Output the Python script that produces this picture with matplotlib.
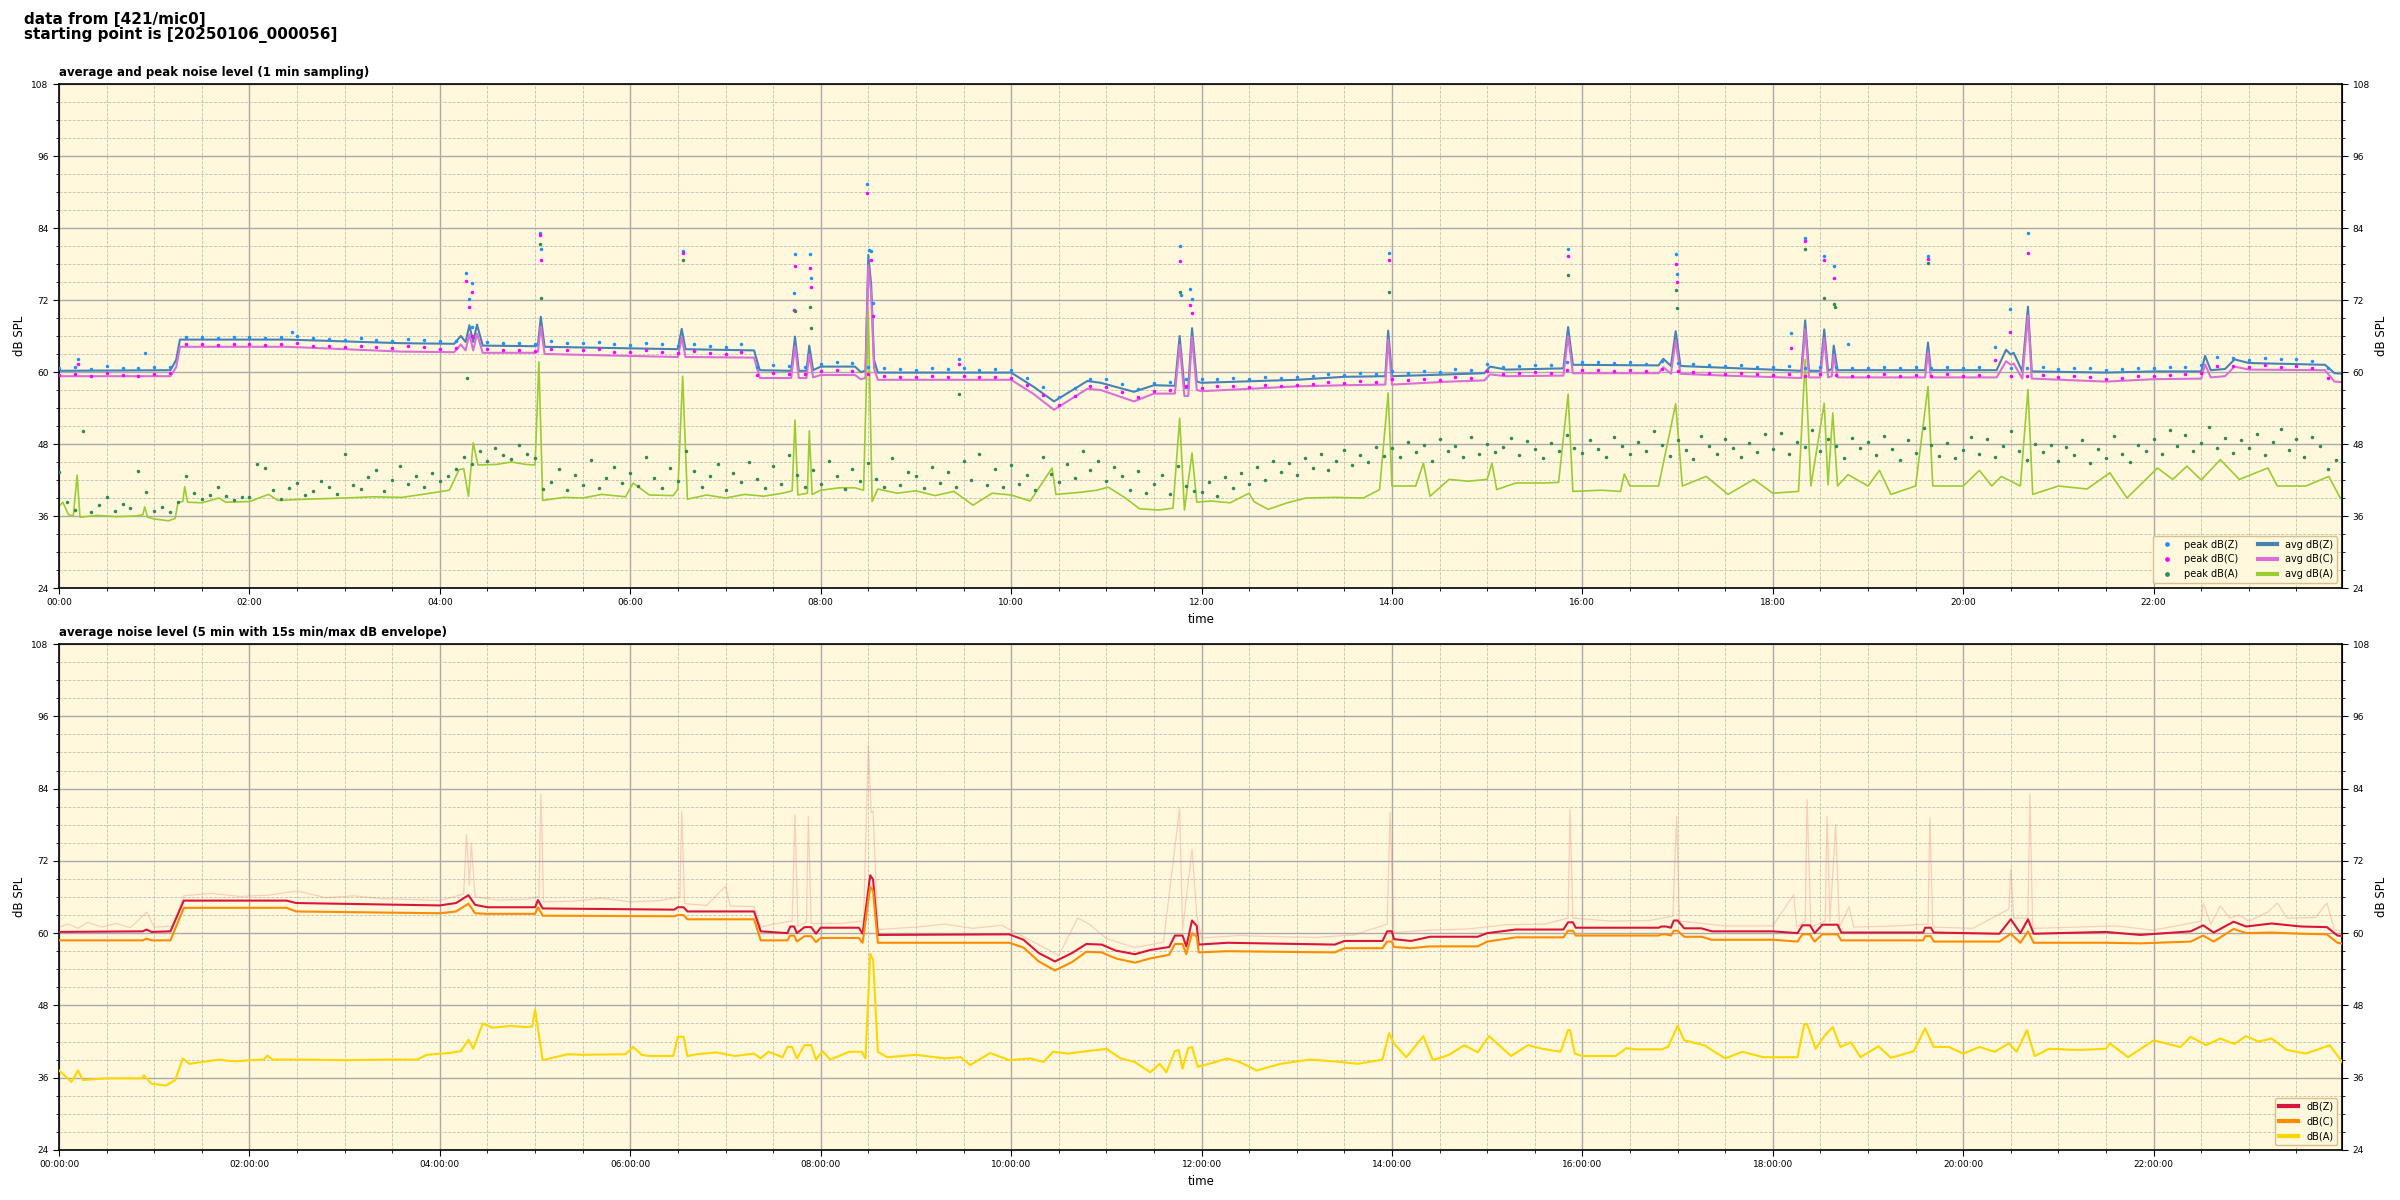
import numpy as np
import matplotlib
matplotlib.use("Agg")
import matplotlib.pyplot as plt
from matplotlib.ticker import MultipleLocator, FuncFormatter

# ---- top panel: 1 min averages (hours since 00:00, dB) ----
avg_zc_t = [0.0, 1.17, 1.23, 1.27, 2.4, 3.6, 4.15, 4.22, 4.27, 4.31, 4.35, 4.39, 4.45,
            5.0, 5.03, 5.06, 5.1, 6.5, 6.54, 6.58, 7.3, 7.36, 7.69, 7.73, 7.77, 7.85,
            7.88, 7.92, 8.0, 8.36, 8.42, 8.47, 8.5, 8.53, 8.56, 8.6, 10.0, 10.23, 10.45,
            10.8, 10.94, 11.29, 11.5, 11.72, 11.77, 11.82, 11.86, 11.9, 11.95, 12.0,
            13.0, 13.5, 13.93, 13.96, 14.0, 14.6, 14.97, 15.03, 15.2, 15.8, 15.85, 15.9,
            16.8, 16.85, 16.93, 16.98, 17.03, 17.5, 18.3, 18.34, 18.38, 18.5, 18.54,
            18.58, 18.62, 18.64, 18.68, 19.6, 19.63, 19.66, 20.35, 20.45, 20.5, 20.53,
            20.62, 20.68, 20.72, 21.5, 22.0, 22.5, 22.54, 22.6, 22.75, 22.85, 23.0,
            23.8, 23.9, 24.0]
avg_z = [60.2, 60.3, 62.0, 65.4, 65.4, 64.8, 64.7, 66.0, 65.0, 67.8, 65.0, 67.9, 64.4,
         64.3, 64.5, 69.2, 64.2, 63.8, 67.2, 63.8, 63.6, 60.3, 60.2, 65.9, 60.2, 60.2,
         64.4, 60.3, 60.9, 60.9, 60.0, 60.2, 79.5, 74.5, 62.0, 59.9, 59.9, 57.6, 55.1,
         58.5, 58.2, 56.7, 57.8, 57.7, 66.0, 57.3, 57.3, 67.3, 58.4, 58.2,
         58.7, 59.2, 59.3, 66.9, 59.3, 59.6, 59.8, 60.9, 60.4, 60.6, 67.5, 61.2,
         61.1, 62.2, 61.0, 66.8, 61.0, 60.7, 60.2, 68.6, 60.2, 60.2, 67.1,
         60.2, 60.5, 64.4, 60.3, 60.3, 64.9, 60.3, 60.3, 63.7, 62.9, 63.2,
         60.1, 70.9, 60.1, 59.9, 60.1, 60.1, 62.7, 60.3, 60.5, 62.1, 61.5,
         61.2, 59.8, 59.7]
avg_c = [59.3, 59.3, 60.8, 64.2, 64.2, 63.4, 63.3, 64.6, 63.6, 66.3, 63.6, 66.4, 63.2,
         63.2, 63.4, 67.6, 63.0, 62.5, 65.7, 62.5, 62.4, 59.0, 59.0, 64.3, 59.0, 59.0,
         62.9, 59.1, 59.5, 59.5, 58.8, 59.0, 77.8, 73.0, 60.6, 58.7, 58.7, 56.4, 53.7,
         57.2, 57.0, 55.1, 56.4, 56.4, 64.5, 56.0, 56.0, 65.8, 57.0, 56.8,
         57.6, 57.8, 57.9, 65.4, 57.9, 58.4, 58.6, 59.6, 59.3, 59.4, 66.0, 59.8,
         59.8, 60.8, 59.7, 65.3, 59.7, 59.4, 59.0, 67.1, 59.1, 59.1, 65.6,
         59.1, 59.3, 62.9, 59.1, 59.1, 63.4, 59.1, 59.1, 61.8, 61.2, 61.4,
         58.9, 69.4, 58.9, 58.4, 58.8, 58.9, 61.3, 59.1, 59.3, 60.9, 60.4,
         60.3, 58.4, 58.3]

avg_a_t = [0.0, 0.04, 0.1, 0.15, 0.19, 0.22, 0.4, 0.6, 0.8, 0.88, 0.9, 0.93, 1.0, 1.15,
           1.22, 1.25, 1.3, 1.32, 1.35, 1.5, 1.68, 1.75, 2.0, 2.2, 2.3, 2.6, 3.0, 3.3,
           3.6, 3.9, 4.1, 4.2, 4.25, 4.3, 4.35, 4.4, 4.6, 4.75, 4.9, 5.0, 5.04, 5.08,
           5.3, 5.5, 5.7, 5.95, 6.03, 6.2, 6.45, 6.5, 6.55, 6.6, 6.8, 7.0, 7.2, 7.4,
           7.6, 7.7, 7.73, 7.76, 7.86, 7.88, 7.91, 8.0, 8.2, 8.36, 8.45, 8.5, 8.54,
           8.6, 8.8, 9.0, 9.2, 9.4, 9.6, 9.8, 10.0, 10.2, 10.43, 10.47, 10.7, 10.9,
           11.02, 11.2, 11.35, 11.55, 11.7, 11.77, 11.82, 11.9, 11.95, 12.1, 12.3,
           12.5, 12.55, 12.7, 12.9, 13.1, 13.4, 13.7, 13.87, 13.96, 14.0, 14.25,
           14.33, 14.4, 14.6, 14.8, 15.0, 15.05, 15.1, 15.3, 15.6, 15.75, 15.85,
           15.9, 16.2, 16.4, 16.44, 16.5, 16.8, 16.98, 17.05, 17.3, 17.53, 17.8,
           18.0, 18.27, 18.34, 18.4, 18.54, 18.58, 18.63, 18.68, 18.79, 19.0,
           19.12, 19.24, 19.5, 19.63, 19.68, 20.0, 20.17, 20.3, 20.4, 20.6, 20.68,
           20.73, 21.0, 21.3, 21.54, 21.72, 22.04, 22.2, 22.35, 22.5, 22.7, 22.9,
           23.2, 23.3, 23.6, 23.84, 23.96, 24.0]
avg_a = [37.6, 38.3, 36.2, 36.0, 42.8, 35.8, 36.1, 35.9, 36.0, 36.2, 37.5, 35.8, 35.5, 35.2,
         35.6, 38.3, 38.4, 40.9, 38.3, 38.2, 39.0, 38.3, 38.4, 39.6, 38.6, 38.8, 39.0, 39.2,
         39.1, 39.8, 40.3, 43.7, 43.9, 39.3, 48.2, 44.5, 44.6, 45.0, 44.6, 44.5, 61.7, 38.6,
         39.1, 39.0, 39.6, 39.2, 41.5, 39.5, 39.4, 40.5, 59.3, 38.8, 39.5, 39.0, 39.6, 39.3,
         39.8, 40.2, 52.0, 39.5, 39.8, 50.2, 39.6, 40.3, 40.7, 40.7, 40.3, 70.2, 38.4,
         40.5, 39.8, 40.2, 39.4, 40.1, 37.8, 39.8, 39.5, 38.5, 44.0, 39.6, 39.9, 40.3,
         40.8, 39.0, 37.2, 37.0, 37.3, 52.3, 37.0, 46.5, 38.3, 38.5, 38.2,
         39.8, 38.4, 37.1, 38.2, 39.0, 39.1, 39.0, 40.4, 56.5, 41.0, 41.0,
         44.8, 39.3, 42.1, 41.8, 42.1, 44.8, 40.4, 41.5, 41.5, 41.6, 56.3,
         40.1, 40.3, 40.1, 43.0, 41.0, 41.0, 54.7, 41.0, 42.6, 39.6, 42.1,
         39.8, 40.1, 62.1, 41.0, 54.8, 41.2, 53.2, 41.0, 42.9, 41.0,
         43.6, 39.6, 41.0, 57.6, 41.0, 41.0, 43.6, 41.0, 42.6, 41.0, 57.1,
         39.6, 41.0, 40.5, 43.2, 39.0, 44.0, 42.1, 44.3, 42.0, 45.4, 42.1,
         44.0, 41.0, 41.0, 42.6, 39.0, 39.2]

# ---- top panel: 1 min peaks, every 10 min (Z, C) and every 5 min (A) ----
peak_z = [60.6, 60.8, 60.5, 61.0, 60.7, 60.6,  60.8, 60.9, 65.8, 65.9, 65.7, 65.8,
          65.9, 65.7, 65.8, 66.0, 65.6, 65.5,  65.4, 65.6, 65.3, 65.2, 65.5, 65.3,
          65.1, 65.2, 67.5, 65.0, 64.9, 64.8,  64.7, 65.1, 64.9, 64.8, 65.0, 64.6,
          64.5, 64.8, 64.6, 64.4, 64.7, 64.3,  64.2, 64.6, 60.8, 61.2, 61.0, 60.9,
          61.4, 61.6, 61.5, 60.9, 60.6, 60.5,  60.4, 60.6, 60.5, 60.7, 60.4, 60.5,
          60.3, 59.0, 57.5, 55.9, 57.4, 58.9,  58.8, 58.0, 57.2, 58.1, 58.3, 58.9,
          58.8, 58.9, 59.0, 58.8, 59.1, 59.0,  59.2, 59.3, 59.6, 59.5, 59.8, 59.7,
          60.1, 59.9, 60.2, 60.0, 60.5, 60.3,  61.4, 60.9, 61.0, 61.2, 61.1, 61.6,
          61.6, 61.7, 61.5, 61.6, 61.4, 61.8,  61.5, 61.3, 61.2, 61.0, 61.1, 60.9,
          60.8, 61.0, 60.7, 60.9, 60.8, 60.6,  60.7, 60.9, 60.6, 60.8, 60.7, 60.9,
          60.6, 60.8, 64.1, 60.7, 60.6, 60.8,  60.5, 60.7, 60.6, 60.4, 60.5, 60.7,
          60.6, 60.8, 60.9, 61.1, 62.5, 62.3,  62.0, 62.4, 62.1, 62.2, 61.9, 60.6]
peak_c = [59.5, 59.6, 59.4, 59.8, 59.5, 59.4,  59.6, 59.8, 64.6, 64.7, 64.5, 64.6,
          64.7, 64.5, 64.6, 64.8, 64.4, 64.3,  64.2, 64.4, 64.1, 64.0, 64.3, 64.1,
          63.9, 64.0, 66.0, 63.8, 63.7, 63.6,  63.5, 63.9, 63.7, 63.6, 63.8, 63.4,
          63.3, 63.6, 63.4, 63.2, 63.5, 63.1,  63.0, 63.3, 59.5, 59.9, 59.7, 59.6,
          60.1, 60.3, 60.2, 59.6, 59.3, 59.2,  59.1, 59.3, 59.2, 59.4, 59.1, 59.2,
          59.0, 57.8, 56.2, 54.5, 56.0, 57.6,  57.5, 56.6, 55.8, 56.8, 57.0, 57.6,
          57.4, 57.6, 57.7, 57.5, 57.8, 57.7,  57.9, 58.0, 58.3, 58.2, 58.5, 58.4,
          58.8, 58.6, 58.9, 58.7, 59.2, 59.0,  60.2, 59.7, 59.8, 60.0, 59.9, 60.4,
          60.3, 60.4, 60.2, 60.3, 60.1, 60.5,  60.2, 60.0, 59.9, 59.7, 59.8, 59.6,
          59.5, 59.7, 59.4, 59.6, 59.5, 59.3,  59.4, 59.6, 59.3, 59.5, 59.4, 59.6,
          59.3, 59.5, 62.0, 59.4, 59.3, 59.5,  59.2, 59.4, 59.1, 58.9, 59.0, 59.4,
          59.3, 59.5, 59.6, 59.8, 61.0, 61.0,  60.8, 61.1, 60.9, 61.0, 60.7, 59.0]
peak_a = [43.4, 38.4, 37.0, 50.2, 36.6, 37.8, 39.1, 36.9, 38.0, 37.4, 43.5, 40.0,
          36.8, 37.5, 36.6, 38.3, 42.6, 39.8, 38.9, 39.5, 40.8, 39.3, 38.6, 39.2,
          39.1, 44.6, 44.0, 40.3, 38.8, 40.6, 41.5, 39.5, 40.2, 41.8, 40.9, 39.7,
          46.3, 41.2, 40.5, 42.5, 43.6, 40.1, 42.0, 44.3, 41.3, 42.7, 40.8, 43.1,
          41.9, 42.6, 43.8, 45.9, 44.7, 46.8, 45.2, 47.3, 46.1, 45.5, 47.9, 46.4,
          45.6, 40.5, 41.6, 43.8, 40.3, 42.9, 41.2, 45.3, 40.7, 42.4, 44.1, 41.5,
          43.2, 41.0, 45.8, 42.3, 40.6, 44.0, 41.8, 46.9, 43.5, 40.9, 42.7, 44.6,
          40.4, 43.1, 41.6, 45.0, 42.2, 40.7, 44.4, 41.3, 46.2, 42.8, 40.9, 43.7,
          41.4, 45.2, 42.6, 40.5, 43.9, 41.8, 44.8, 42.1, 40.9, 45.6, 41.2, 43.3,
          42.7, 40.6, 44.2, 41.5, 43.4, 40.8, 45.1, 42.0, 46.4, 41.1, 43.8, 40.9,
          44.5, 41.3, 42.8, 40.4, 45.9, 43.0, 41.6, 44.7, 42.3, 46.8, 43.6, 45.2,
          41.9, 44.1, 42.6, 40.3, 43.5, 39.8, 41.4, 42.9, 39.6, 44.3, 41.0, 40.2,
          40.0, 41.7, 39.4, 42.5, 40.6, 43.1, 41.3, 44.2, 42.0, 45.1, 43.4, 44.8,
          42.9, 45.6, 44.0, 46.3, 43.7, 45.1, 47.0, 44.5, 46.2, 45.0, 47.5, 46.0,
          47.4, 45.8, 48.3, 46.6, 47.9, 45.2, 48.8, 46.9, 47.7, 45.9, 49.2, 46.4,
          48.0, 46.7, 47.5, 49.0, 46.2, 48.5, 47.1, 45.6, 48.2, 46.8, 49.5, 47.3,
          46.5, 48.7, 47.2, 45.8, 49.1, 47.6, 46.3, 48.4, 46.9, 50.1, 47.8, 46.0,
          48.6, 47.0, 45.5, 49.3, 47.7, 46.4, 48.9, 47.3, 45.9, 48.1, 46.6, 49.6,
          47.1, 49.8, 46.3, 48.4, 47.5, 50.3, 46.8, 48.9, 47.6, 45.7, 49.0, 47.4,
          48.3, 46.1, 49.4, 47.2, 45.4, 48.7, 46.5, 50.6, 47.9, 46.0, 48.2, 45.6,
          47.0, 49.2, 46.4, 48.8, 45.8, 47.6, 50.2, 46.9, 45.3, 48.0, 46.7, 47.8,
          45.2, 47.5, 46.2, 48.6, 44.9, 47.1, 45.7, 49.3, 46.4, 45.0, 47.9, 46.8,
          48.9, 46.3, 50.4, 47.7, 49.5, 46.9, 48.2, 50.8, 47.4, 49.0, 46.5, 48.6,
          47.3, 49.7, 46.1, 48.4, 50.5, 47.0, 48.8, 45.9, 49.2, 47.6, 43.8, 45.4]

# isolated loud peaks (hour, dB)
spike_z_t = [0.2, 0.9, 2.45, 4.27, 4.34, 4.31, 5.05, 5.06, 6.55, 7.73, 7.72, 7.89, 7.9,
             8.49, 8.53, 8.51, 8.55, 9.45, 11.77, 11.78, 11.88, 11.9, 13.97, 15.85,
             16.98, 16.99, 18.19, 18.34, 18.54, 18.64, 18.79, 19.63, 20.49, 20.68]
spike_z = [62.1, 63.1, 66.6, 76.5, 74.8, 72.2, 83.2, 80.5, 80.1, 79.6, 73.2, 79.6, 75.7,
           91.4, 80.1, 80.3, 71.5, 62.1, 81.0, 72.9, 73.9, 72.1, 79.8, 80.5,
           79.6, 76.4, 66.5, 82.4, 79.4, 77.6, 64.7, 79.3, 70.5, 83.1]
spike_c_t = [0.2, 4.27, 4.34, 4.31, 5.05, 5.06, 6.55, 7.73, 7.72, 7.89, 7.9, 8.49, 8.53,
             8.55, 9.45, 11.77, 11.88, 11.9, 13.97, 15.85, 16.98, 16.99, 18.19, 18.34,
             18.54, 18.64, 19.63, 20.49, 20.68]
spike_c = [61.4, 75.2, 73.3, 70.9, 82.9, 78.7, 79.8, 77.7, 70.4, 77.3, 74.2, 89.8, 78.7,
           69.3, 61.3, 78.5, 71.1, 69.9, 78.6, 79.3, 78.0, 75.0, 64.0, 81.9,
           78.6, 75.7, 78.8, 66.7, 79.8]
spike_a_t = [4.28, 5.05, 5.06, 6.55, 7.73, 7.89, 7.9, 9.45, 11.77, 13.97, 15.85, 16.98,
             16.99, 18.34, 18.54, 18.64, 18.65, 19.63]
spike_a = [59.0, 81.3, 72.3, 78.7, 70.2, 70.9, 67.3, 56.3, 73.4, 73.3, 76.1, 73.6,
           70.6, 80.5, 72.3, 71.4, 70.8, 78.2]

# ---- bottom panel: 5 min averages ----
bot_t = [0.0, 0.88, 0.92, 0.97, 1.17, 1.31, 2.39, 2.49, 4.0, 4.17, 4.3, 4.37, 4.5, 5.0,
         5.03, 5.08, 6.46, 6.5, 6.56, 6.6, 7.3, 7.37, 7.65, 7.68, 7.72, 7.75, 7.83, 7.9,
         7.95, 8.0, 8.4, 8.44, 8.52, 8.55, 8.6, 9.98, 10.13, 10.29, 10.46, 10.64, 10.79,
         10.95, 11.1, 11.3, 11.46, 11.66, 11.72, 11.8, 11.84, 11.9, 11.95, 11.97, 12.27,
         13.4, 13.5, 13.9, 13.95, 14.0, 14.02, 14.2, 14.4, 14.9, 15.0, 15.3, 15.8, 15.85,
         15.9, 15.93, 16.8, 16.83, 16.88, 16.93, 16.96, 17.0, 17.07, 17.25, 17.36, 18.0,
         18.26, 18.31, 18.39, 18.44, 18.52, 18.68, 18.72, 19.58, 19.6, 19.66, 19.69,
         20.38, 20.5, 20.6, 20.68, 20.74, 21.5, 21.86, 22.39, 22.52, 22.63, 22.84, 22.97,
         23.24, 23.55, 23.82, 23.93, 24.0]
bot_z = [60.2, 60.3, 60.6, 60.2, 60.3, 65.4, 65.4, 65.0, 64.6, 65.0, 66.3, 64.7, 64.3, 64.3,
         65.5, 64.1, 63.9, 64.3, 64.3, 63.6, 63.6, 60.3, 60.0, 61.1, 61.1, 60.0, 61.0, 61.0,
         59.9, 60.9, 60.9, 59.9, 69.6, 68.9, 59.7, 59.8, 58.9, 56.7, 55.3, 56.7, 58.2,
         58.1, 57.1, 56.5, 57.2, 57.7, 59.6, 59.6, 57.8, 62.1, 61.2, 58.1, 58.4,
         58.1, 58.7, 58.7, 60.3, 60.3, 59.0, 58.7, 59.4, 59.4, 60.0, 60.6, 60.6, 61.8,
         61.8, 60.9, 60.9, 61.1, 61.1, 60.9, 62.1, 62.1, 60.8, 60.8, 60.3, 60.3,
         60.0, 61.3, 61.3, 60.0, 61.4, 61.4, 60.1, 60.1, 60.9, 60.9, 60.1,
         59.9, 62.3, 60.0, 62.3, 59.9, 60.2, 59.7, 60.3, 61.3, 60.1, 61.9, 61.1,
         61.6, 61.1, 61.0, 59.6, 59.5]
bot_c = [58.8, 58.8, 59.1, 58.8, 58.8, 64.2, 64.2, 63.6, 63.3, 63.6, 64.9, 63.3, 63.2, 63.2,
         64.3, 62.9, 62.8, 63.0, 63.0, 62.3, 62.3, 58.8, 58.8, 59.6, 59.6, 58.6, 59.5, 59.5,
         58.5, 59.2, 59.2, 58.4, 67.7, 67.0, 58.4, 58.4, 57.6, 55.3, 53.8, 55.2, 56.9,
         56.8, 55.8, 55.1, 55.8, 56.4, 58.2, 58.2, 56.5, 60.0, 59.4, 56.8, 57.0,
         56.8, 57.5, 57.5, 58.6, 58.6, 57.7, 57.5, 57.8, 57.8, 58.6, 59.3, 59.3, 60.4,
         60.4, 59.6, 59.6, 59.8, 59.8, 59.6, 60.4, 60.4, 59.4, 59.4, 58.9, 58.9,
         58.6, 59.8, 59.8, 58.6, 59.8, 59.8, 58.8, 58.8, 59.5, 59.5, 58.6,
         58.6, 59.9, 58.4, 60.3, 58.4, 58.4, 58.3, 58.6, 59.6, 58.6, 60.7, 60.0,
         60.1, 59.9, 59.8, 58.4, 58.2]

bot_a_t = [0.0, 0.13, 0.2, 0.25, 0.5, 0.87, 0.89, 0.97, 1.12, 1.22, 1.3, 1.37, 1.5, 1.68,
           1.85, 2.0, 2.15, 2.19, 2.24, 2.6, 3.0, 3.4, 3.76, 3.86, 4.1, 4.22, 4.3, 4.35,
           4.45, 4.55, 4.75, 4.9, 4.97, 5.0, 5.08, 5.34, 5.5, 5.95, 6.03, 6.12, 6.2, 6.45,
           6.5, 6.56, 6.6, 6.7, 6.9, 7.1, 7.3, 7.37, 7.45, 7.6, 7.65, 7.7, 7.75, 7.83,
           7.9, 7.95, 8.02, 8.1, 8.3, 8.43, 8.47, 8.52, 8.55, 8.6, 8.7, 9.0, 9.3, 9.47,
           9.57, 9.78, 9.98, 10.2, 10.34, 10.44, 10.6, 10.8, 11.0, 11.15, 11.3, 11.46,
           11.56, 11.63, 11.72, 11.76, 11.8, 11.86, 11.9, 11.96, 12.1, 12.27, 12.4,
           12.58, 12.83, 13.13, 13.4, 13.64, 13.9, 13.97, 14.02, 14.15, 14.33, 14.43,
           14.6, 14.76, 14.9, 15.02, 15.25, 15.43, 15.58, 15.77, 15.85, 15.87, 15.92,
           16.0, 16.35, 16.46, 16.57, 16.83, 16.9, 17.0, 17.07, 17.28, 17.5, 17.68,
           17.9, 18.26, 18.33, 18.36, 18.45, 18.55, 18.63, 18.71, 18.82, 18.92, 19.11,
           19.24, 19.48, 19.6, 19.69, 19.85, 20.0, 20.17, 20.33, 20.48, 20.56, 20.67,
           20.75, 20.9, 21.2, 21.5, 21.54, 21.73, 22.0, 22.28, 22.39, 22.55, 22.7,
           22.85, 22.97, 23.1, 23.24, 23.4, 23.6, 23.85, 23.98]
bot_a = [37.2, 35.3, 37.2, 35.6, 35.9, 35.9, 36.4, 35.0, 34.7, 35.6, 39.2, 38.3, 38.6, 39.0,
         38.7, 38.9, 39.0, 39.7, 39.0, 39.0, 38.9, 39.0, 39.0, 39.8, 40.1, 40.4, 42.3, 40.8,
         45.0, 44.3, 44.6, 44.4, 44.5, 47.3, 38.9, 39.9, 39.8, 39.9, 41.1, 39.8, 39.6, 39.6,
         42.8, 42.8, 39.6, 39.9, 40.2, 39.6, 40.0, 39.2, 40.3, 39.4, 41.1, 41.1, 39.2, 41.4,
         41.4, 39.0, 40.4, 39.0, 40.3, 40.3, 39.2, 56.6, 55.6, 40.3, 39.4, 39.8, 39.2, 39.4,
         38.1, 40.1, 38.9, 39.2, 38.6, 40.3, 40.0, 40.4, 40.8, 39.2, 38.6, 36.9,
         38.3, 36.9, 40.4, 40.6, 37.5, 40.9, 41.1, 37.8, 38.4, 39.2, 38.6,
         37.2, 38.3, 39.0, 38.7, 38.3, 39.0, 43.4, 41.7, 39.4, 42.9, 38.9,
         39.8, 41.4, 40.2, 42.9, 39.6, 41.4, 40.8, 40.3, 43.9, 43.9, 40.0,
         39.6, 39.6, 40.9, 40.7, 40.7, 41.1, 44.6, 42.2, 41.4, 39.2, 40.3,
         39.4, 39.4, 44.9, 44.9, 40.8, 43.1, 44.4, 41.1, 41.9, 39.4, 41.2,
         39.3, 40.4, 44.2, 41.1, 41.1, 40.0, 41.1, 40.3, 41.7, 40.3, 43.9,
         39.6, 40.8, 40.6, 40.8, 41.7, 39.4, 42.2, 41.1, 42.8, 41.4, 42.5,
         41.6, 42.9, 42.0, 42.5, 40.6, 40.0, 41.4, 38.6]

# 15 s max envelope of dB(Z)
env_t = [0.0, 0.1, 0.2, 0.3, 0.45, 0.6, 0.75, 0.92, 1.0, 1.2, 1.31, 1.6, 1.9, 2.2, 2.5, 2.8,
         3.1, 3.4, 3.7, 4.0, 4.25, 4.28, 4.31, 4.33, 4.37, 4.6, 4.9, 5.04, 5.06, 5.09, 5.4,
         5.7, 6.0, 6.3, 6.52, 6.54, 6.57, 6.8, 7.0, 7.05, 7.3, 7.37, 7.5, 7.7, 7.73, 7.76,
         7.85, 7.87, 7.9, 8.2, 8.45, 8.5, 8.53, 8.55, 8.6, 9.0, 9.3, 9.6, 9.9, 10.3, 10.5,
         10.7, 10.82, 11.0, 11.3, 11.6, 11.77, 11.8, 11.9, 11.95, 12.0, 12.4, 12.8, 13.2,
         13.6, 13.95, 13.98, 14.02, 14.4, 14.8, 15.2, 15.6, 15.85, 15.87, 15.9, 16.3, 16.7,
         16.95, 16.99, 17.02, 17.5, 18.0, 18.22, 18.25, 18.34, 18.36, 18.4, 18.55, 18.57,
         18.6, 18.66, 18.7, 18.8, 18.85, 19.3, 19.63, 19.65, 19.68, 20.1, 20.48, 20.5,
         20.53, 20.68, 20.7, 20.73, 21.2, 21.6, 22.0, 22.5, 22.52, 22.6, 22.7, 22.8, 22.9,
         23.0, 23.2, 23.3, 23.4, 23.7, 23.82, 23.9, 24.0]
env_z = [61.0, 61.5, 60.8, 61.8, 61.0, 61.6, 60.9, 63.5, 61.0, 61.2, 66.2, 66.6, 66.1, 66.3,
         67.0, 65.9, 66.2, 65.7, 65.6, 65.4, 66.5, 76.4, 68.0, 74.9, 66.0, 65.5, 65.6, 66.0,
         83.1, 65.2, 65.3, 65.8, 65.2, 65.4, 66.0, 80.2, 64.9, 64.6, 67.8, 64.5, 64.4, 61.0,
         61.5, 62.0, 79.6, 61.2, 61.8, 79.4, 61.6, 61.6, 62.0, 91.2, 80.0, 80.3, 60.6, 61.0,
         61.5, 60.8, 61.3, 58.0, 56.3, 62.5, 61.5, 59.1, 57.6, 58.5, 80.8, 60.5, 73.9,
         63.0, 59.2, 59.6, 59.4, 59.3, 59.7, 61.5, 80.0, 60.1, 60.5, 60.7, 61.4, 61.5,
         62.5, 80.6, 62.5, 62.0, 62.1, 62.8, 79.4, 62.0, 61.2, 61.2, 66.4, 61.0, 62.0,
         82.2, 61.0, 62.0, 79.4, 62.0, 78.1, 61.0, 64.4, 61.0, 61.2, 61.5, 79.2, 61.0,
         60.8, 64.0, 70.6, 62.5, 62.5, 83.1, 60.8, 61.0, 61.2, 60.5, 62.0, 65.0, 61.5,
         64.5, 62.5, 63.0, 62.0, 63.5, 65.0, 62.5, 62.6, 65.0, 60.5, 60.3]

BG = "#fff8dc"
X_END = 23.98


def hhmm(x, pos):
    m = int(round(x * 60))
    return f"{m // 60:02d}:{m % 60:02d}"


def hhmmss(x, pos):
    return hhmm(x, pos) + ":00"


def style_axes(ax, fmt):
    ax.set_facecolor(BG)
    ax.set_xlim(0, X_END)
    ax.set_ylim(24, 108)
    ax.xaxis.set_major_locator(MultipleLocator(2))
    ax.xaxis.set_minor_locator(MultipleLocator(0.5))
    ax.xaxis.set_major_formatter(FuncFormatter(fmt))
    ax.yaxis.set_major_locator(MultipleLocator(12))
    ax.yaxis.set_minor_locator(MultipleLocator(3))
    ax.grid(which="major", color="#aaaaaa", lw=1.0, ls="-")
    ax.grid(which="minor", color="#c4c0b4", lw=0.6, ls="--")
    ax.set_axisbelow(True)
    ax.tick_params(which="both", labelsize=6.5)
    ax.tick_params(which="major", length=4)
    ax.tick_params(which="minor", length=2)
    for s in ax.spines.values():
        s.set_linewidth(1.2)
    ax.set_xlabel("time", fontsize=8.5)
    ax.set_ylabel("dB SPL", fontsize=8.5)
    axr = ax.secondary_yaxis("right")
    axr.set_ylabel("dB SPL", fontsize=8.5)
    axr.yaxis.set_major_locator(MultipleLocator(12))
    axr.yaxis.set_minor_locator(MultipleLocator(3))
    axr.tick_params(which="both", labelsize=6.5)
    axr.tick_params(which="major", length=4)
    axr.tick_params(which="minor", length=2)


fig = plt.figure(figsize=(24, 12), dpi=100)
fig.text(0.01, 0.99, "data from [421/mic0]\nstarting point is [20250106_000056]",
         ha="left", va="top", fontsize=11, fontweight="bold", linespacing=1.0)

ax1 = fig.add_axes([0.0246, 0.51, 0.9513, 0.42])
style_axes(ax1, hhmm)
ax1.set_title("average and peak noise level (1 min sampling)", loc="left",
              fontsize=8.5, fontweight="bold", pad=6)

pt10 = np.arange(len(peak_z)) / 6.0
pt5 = np.arange(len(peak_a)) / 12.0
lz, = ax1.plot(avg_zc_t, avg_z, color="#4682b4", lw=1.5, label="avg dB(Z)", zorder=2)
lc, = ax1.plot(avg_zc_t, avg_c, color="#da70d6", lw=1.5, label="avg dB(C)", zorder=2)
la, = ax1.plot(avg_a_t, avg_a, color="#9acd32", lw=1.2, label="avg dB(A)", zorder=2)
pz, = ax1.plot(np.concatenate([pt10, spike_z_t]), peak_z + spike_z, ".", color="#1e90ff",
               ms=3, label="peak dB(Z)", zorder=3)
pc, = ax1.plot(np.concatenate([pt10, spike_c_t]), peak_c + spike_c, ".", color="#ff00ff",
               ms=3, label="peak dB(C)", zorder=3)
pa, = ax1.plot(np.concatenate([pt5, spike_a_t]), peak_a + spike_a, ".", color="#2e8b57",
               ms=3, label="peak dB(A)", zorder=3)
leg = ax1.legend(handles=[pz, pc, pa, lz, lc, la], loc="lower right", ncol=2, fontsize=7,
                 markerscale=1.6, facecolor=BG, edgecolor="#d9c08c", framealpha=1.0)
for h in leg.legend_handles[3:]:
    h.set_linewidth(3)

ax2 = fig.add_axes([0.0246, 0.0417, 0.9513, 0.4216])
style_axes(ax2, hhmmss)
ax2.set_title("average noise level (5 min with 15s min/max dB envelope)", loc="left",
              fontsize=8.5, fontweight="bold", pad=6)
ax2.plot(env_t, env_z, color="#f08080", lw=0.9, alpha=0.35, zorder=2)
bz, = ax2.plot(bot_t, bot_z, color="#dc143c", lw=1.5, label="dB(Z)", zorder=3)
bc, = ax2.plot(bot_t, bot_c, color="#ff8c00", lw=1.5, label="dB(C)", zorder=3)
ba, = ax2.plot(bot_a_t, bot_a, color="#ffd700", lw=1.5, label="dB(A)", zorder=3)
leg2 = ax2.legend(handles=[bz, bc, ba], loc="lower right", fontsize=7,
                  facecolor=BG, edgecolor="#d9c08c", framealpha=1.0)
for h in leg2.legend_handles:
    h.set_linewidth(3)

fig.savefig("out.png", dpi=100, facecolor="white")
